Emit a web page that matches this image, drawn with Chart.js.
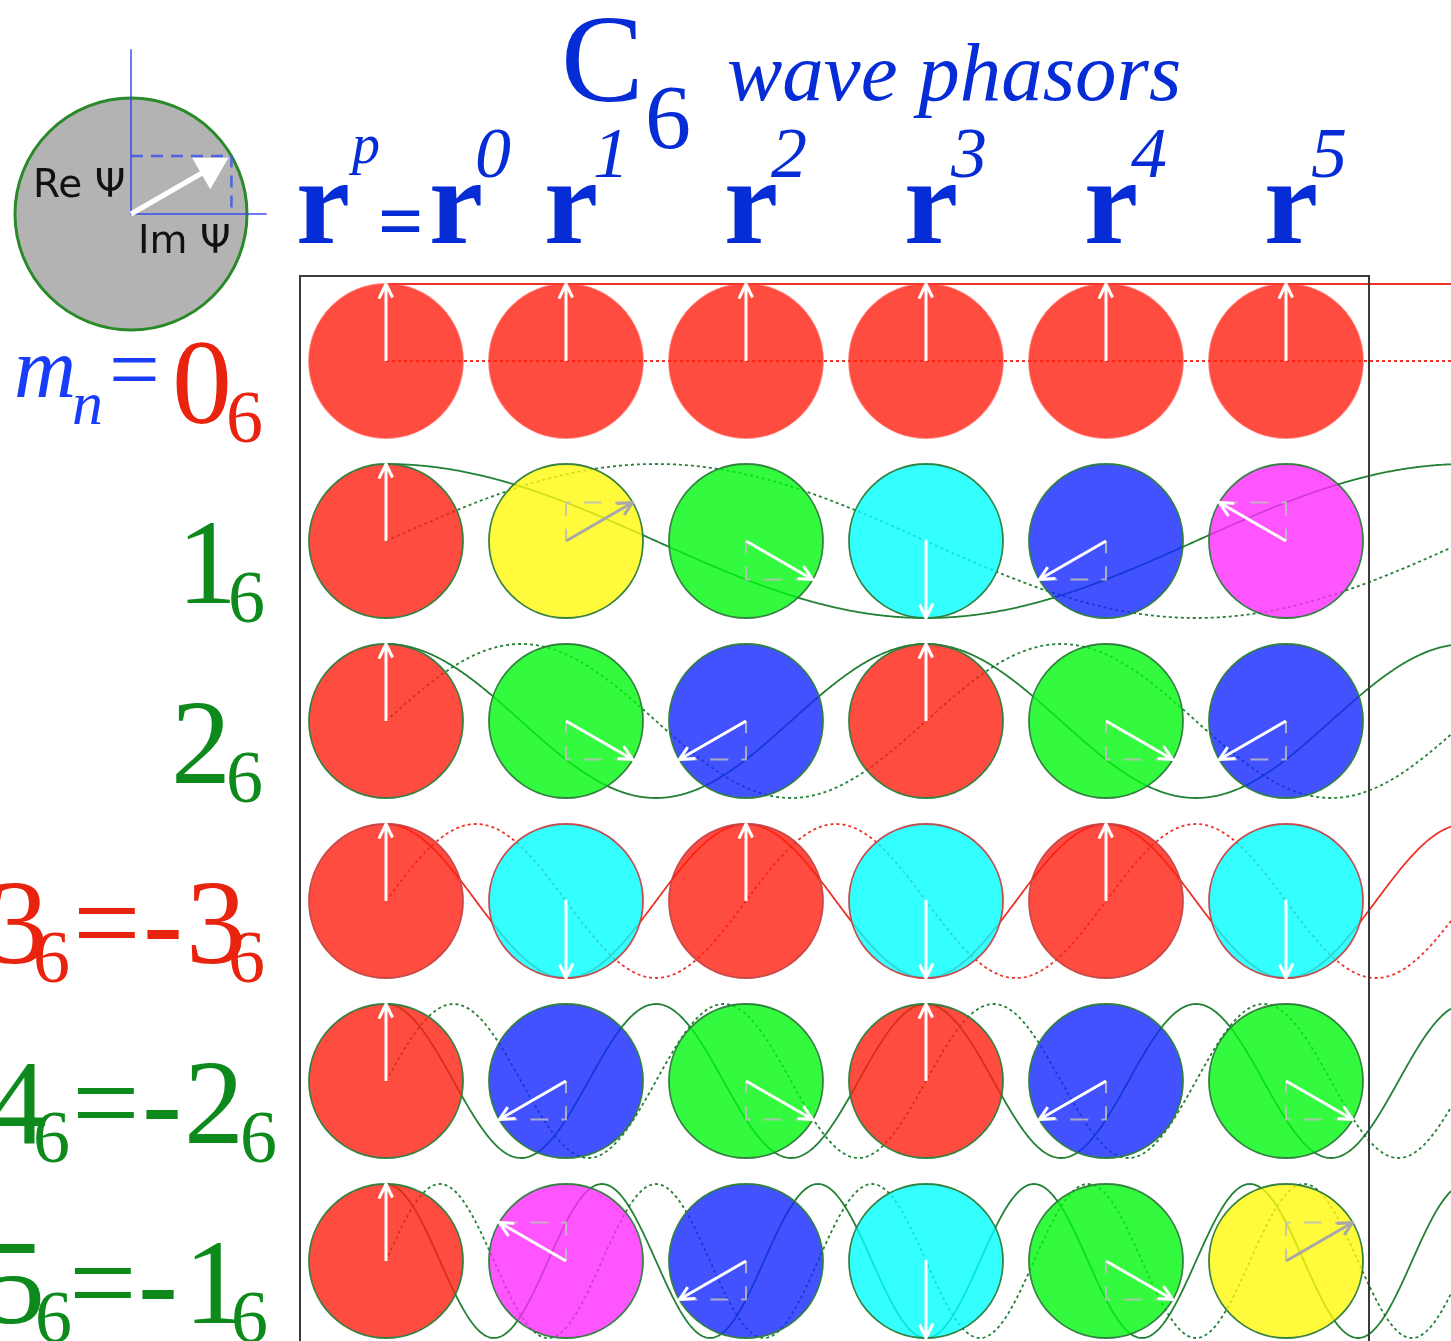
<!DOCTYPE html>
<html>
<head>
<meta charset="utf-8">
<title>C6 wave phasors</title>
<script src="https://cdn.jsdelivr.net/npm/chart.js@4.4.0/dist/chart.umd.min.js"></script>
<style>
  html, body { margin: 0; background: #fff; }
  #stage { position: relative; width: 1451px; height: 1341px; overflow: hidden; }
  #wrap { position: absolute; left: 0; top: 0; width: 1451px; height: 1341px; }
  #frame { position: absolute; left: 299px; top: 275px; width: 1071px; height: 1120px; border: 2px solid #3a3a3a; box-sizing: border-box; pointer-events: none; }
  .t { position: absolute; white-space: pre; }
</style>
</head>
<body>
<div id="stage">
  <div id="wrap"><canvas id="grafico"></canvas></div>
  <div id="frame"></div>
</div>
<script>
// C6 phasor table: row m_n, column r^p, phasor angle = 60deg * (m*p mod 6)
const powers = [0, 1, 2, 3, 4, 5];              // r^p columns
const modes = [0, 1, 2, 3, 4, 5];               // m_n rows
const rowDigits = ["0", "1", "2", "3", "4", "5"];
const rowAliases = ["", "", "", "3", "2", "1"];  // m = -(6-m)
const rowInk = ["red", "green", "green", "red", "green", "green"];
const superscripts = ["p", "0", "1", "2", "3", "4", "5"];
const legendPhase = 1;                          // key phasor, in 60deg steps

// colours per phase step (0, 60, 120, ... deg)
const phaseFill = [
  "rgba(255,31,16,0.8)", "rgba(255,249,11,0.8)", "rgba(0,249,15,0.8)",
  "rgba(0,255,255,0.8)", "rgba(19,39,255,0.8)", "rgba(255,43,255,0.8)"
];
const phaseArrow = ["#ffffff", "#a8a8a8", "#ffffff", "#ffffff", "#ffffff", "#ffffff"];
const ink = { red: "#e8240f", green: "#0e8a1c" };
const waveInk = { red: "rgba(236,40,28,0.95)", green: "rgba(10,115,30,0.9)" };
const edgeInk = ["rgba(255,70,60,0.6)", "rgba(45,125,60,0.95)", "rgba(45,125,60,0.95)",
  "rgba(196,70,70,0.95)", "rgba(45,125,60,0.95)", "rgba(45,125,60,0.95)"];

// layout (px)
const W = 1451, H = 1341, STEP = 180, X0 = 386, Y0 = 361;
const R = 77 / STEP;            // phasor radius in grid units
const LC = { x: (131 - X0) / STEP, y: (214 - Y0) / STEP };
const LR = 116 / STEP;

const $ = s => document.querySelector(s);
const px = (chart, u) => Math.abs(chart.scales.x.getPixelForValue(u) - chart.scales.x.getPixelForValue(0));
const rad = k => k * Math.PI / 3;

// cells
const cells = [];
modes.forEach(m => powers.forEach(p => cells.push({ m, p, k: (m * p) % 6 })));

const datasets = [];

// waves: solid = real part, dotted = imaginary part
const xEnd = (W - X0) / STEP;
function wave(m, fn) {
  const pts = [];
  for (let i = 0; i <= 900; i++) {
    const x = xEnd * i / 900;
    pts.push({ x, y: m - R * fn(2 * Math.PI * m * x / 6) });
  }
  return pts;
}
modes.forEach(m => {
  const c = waveInk[rowInk[m]];
  datasets.push({ data: wave(m, Math.cos), showLine: true, borderColor: c, borderWidth: 1.8, pointRadius: 0, order: 30 });
  datasets.push({ data: wave(m, Math.sin), showLine: true, borderColor: c, borderWidth: 1.8, borderDash: [3, 3], pointRadius: 0, order: 30 });
});

// phasor discs
datasets.push({
  data: cells.map(c => ({ x: c.p, y: c.m })),
  pointRadius: ctx => px(ctx.chart, R),
  pointBackgroundColor: cells.map(c => phaseFill[c.k]),
  pointBorderColor: cells.map(c => edgeInk[c.m]),
  pointBorderWidth: 1.8,
  order: 20
});

// arrows + dashed components
const barb = 15 / STEP, spread = 0.45;
cells.forEach(c => {
  const a = rad(c.k);
  const tip = { x: c.p + R * Math.sin(a), y: c.m - R * Math.cos(a) };
  const bx = -Math.sin(a), by = Math.cos(a);
  const b1 = { x: tip.x + barb * (bx * Math.cos(spread) - by * Math.sin(spread)), y: tip.y + barb * (bx * Math.sin(spread) + by * Math.cos(spread)) };
  const b2 = { x: tip.x + barb * (bx * Math.cos(-spread) - by * Math.sin(-spread)), y: tip.y + barb * (bx * Math.sin(-spread) + by * Math.cos(-spread)) };
  datasets.push({
    data: [{ x: c.p, y: c.m }, tip, b1, tip, b2],
    showLine: true, borderColor: phaseArrow[c.k], borderWidth: 3, pointRadius: 0,
    borderJoinStyle: "round", order: 10
  });
  if (Math.abs(Math.sin(a)) > 0.01) {
    datasets.push({
      data: [tip, { x: c.p, y: tip.y }, { x: c.p, y: c.m }],
      showLine: true, borderColor: "rgba(190,190,190,0.85)", borderWidth: 2, borderDash: [18, 13],
      pointRadius: 0, order: 12
    });
  }
});

// key disc (top left)
const la = rad(legendPhase);
const ltip = { x: LC.x + LR * Math.sin(la), y: LC.y - LR * Math.cos(la) };
const headR = 21;
const headC = { x: ltip.x - (headR / STEP + 0.03 * LR) * Math.sin(la), y: ltip.y + (headR / STEP + 0.03 * LR) * Math.cos(la) };
datasets.push({
  data: [LC], pointRadius: ctx => px(ctx.chart, LR),
  pointBackgroundColor: "#b3b3b3", pointBorderColor: "#2a8a2a", pointBorderWidth: 3, order: 20
});
datasets.push({
  data: [{ x: LC.x, y: LC.y - 1.42 * LR }, LC, { x: LC.x + 1.17 * LR, y: LC.y }],
  showLine: true, borderColor: "rgba(50,70,240,0.95)", borderWidth: 1.5, pointRadius: 0, order: 11
});
datasets.push({
  data: [{ x: LC.x, y: ltip.y }, ltip, { x: ltip.x, y: LC.y }],
  showLine: true, borderColor: "rgba(70,90,230,0.9)", borderWidth: 2.5, borderDash: [12, 8], pointRadius: 0, order: 12
});
datasets.push({
  data: [LC, headC], showLine: true, borderColor: "#ffffff", borderWidth: 5, pointRadius: 0, order: 10
});
datasets.push({
  data: [headC], pointStyle: "triangle", rotation: legendPhase * 60, pointRadius: headR,
  pointBackgroundColor: "#ffffff", pointBorderWidth: 0, order: 9
});

new Chart($("#grafico"), {
  type: "scatter",
  data: { datasets },
  options: {
    responsive: true,
    maintainAspectRatio: false,
    animation: false,
    events: [],
    layout: { padding: 0, autoPadding: false },
    plugins: { legend: { display: false }, tooltip: { enabled: false } },
    scales: {
      x: { type: "linear", display: false, min: -X0 / STEP, max: (W - X0) / STEP },
      y: { type: "linear", display: false, reverse: true, min: -Y0 / STEP, max: (H - Y0) / STEP }
    }
  }
});

// text
const SERIF = "'Liberation Serif', 'Times New Roman', Tinos, Times, serif";
const SANS = "'DejaVu Sans', sans-serif";
const BASE = { serif: 0.8375, sans: 0.846 };
function put(str, x, base, size, style, color, family = "serif") {
  const el = document.createElement("span");
  el.className = "t";
  el.textContent = str;
  el.style.left = x + "px";
  el.style.top = (base - BASE[family] * size) + "px";
  el.style.fontFamily = family === "serif" ? SERIF : SANS;
  el.style.fontSize = size + "px";
  el.style.lineHeight = "1";
  el.style.fontStyle = style === "italic" ? "italic" : "normal";
  el.style.fontWeight = style === "bold" ? "bold" : "normal";
  el.style.color = color;
  $("#stage").appendChild(el);
}

const titleBlue = "rgb(6,44,214)";
put("C", 561, 102, 124, "normal", titleBlue);
put("6", 645, 148, 92, "normal", titleBlue);
put("wave phasors", 727, 101, 83, "italic", titleBlue);

const rLeft = [296, 429, 544, 724, 904, 1084, 1264];
const supLeft = [352, 475, 593, 771, 951, 1131, 1311];
rLeft.forEach(x => put("r", x, 243, 122, "bold", titleBlue));
put("=", 378, 248, 80, "bold", titleBlue);
superscripts.forEach((s, i) => {
  if (i === 0) put(s, supLeft[i], 163, 56, "italic", titleBlue);
  else put(s, supLeft[i], 177, 72, "italic", titleBlue);
});

const mBlue = "rgb(25,60,250)";
put("m", 14, 397, 86, "italic", mBlue);
put("n", 72, 424, 62, "italic", mBlue);
put("=", 109, 400, 90, "normal", mBlue);

const labelX = [
  [172, 226],
  [177, 228],
  [171, 226],
  [-12, 33, 73, 143, 186, 228],
  [-13, 33, 72, 142, 184, 240],
  [-15, 35, 69, 138, 184, 231]
];
modes.forEach(m => {
  const base = 423 + 180 * m, sub = 442 + 180 * m;
  const col = ink[rowInk[m]];
  const X = labelX[m];
  put(rowDigits[m], X[0], base, 120, "normal", col);
  put("6", X[1], sub, 74, "normal", col);
  if (rowAliases[m]) {
    put("=", X[2], base, 120, "normal", col);
    put("-", X[3], base, 120, "normal", col);
    put(rowAliases[m], X[4], base, 120, "normal", col);
    put("6", X[5], sub, 74, "normal", col);
  }
});

put("Re \u03A8", 33, 197, 39, "normal", "#111", "sans");
put("Im \u03A8", 138, 253, 39, "normal", "#111", "sans");
</script>
</body>
</html>
